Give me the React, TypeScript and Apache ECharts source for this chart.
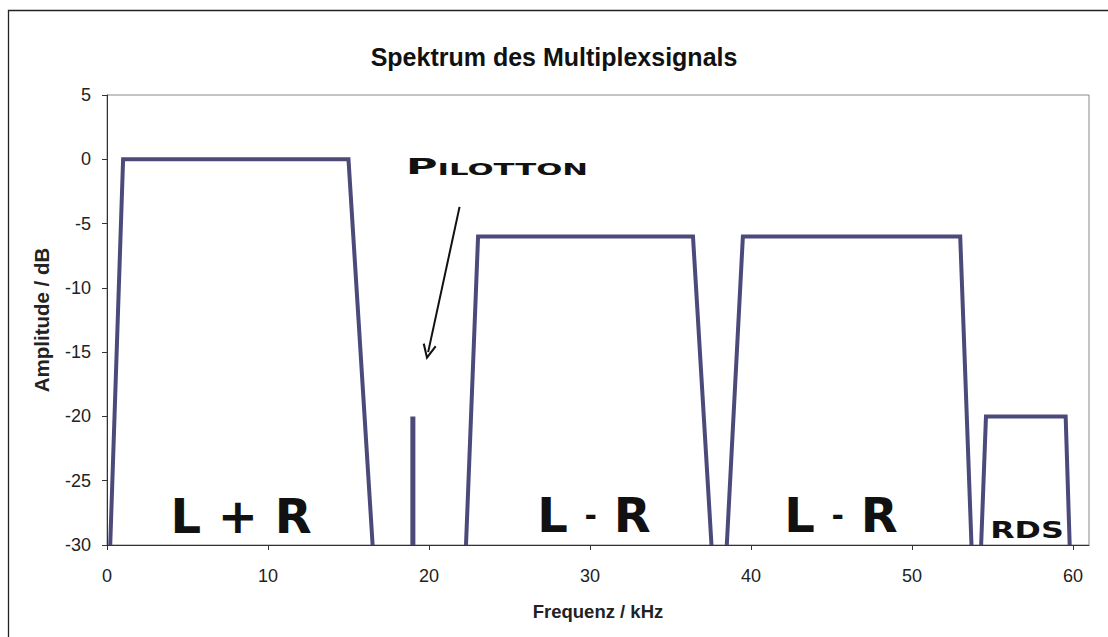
import React, { useEffect, useRef } from "react";
import * as echarts from "echarts";

// ---- Data ----
const titleText = "Spektrum des Multiplexsignals";
const xAxisName = "Frequenz / kHz";
const yAxisName = "Amplitude / dB";

const xTicks = [0, 10, 20, 30, 40, 50, 60];
const yTicks = [5, 0, -5, -10, -15, -20, -25, -30];

const lprFreq = [0.2, 1.0, 15.0, 16.5];
const lprAmp = [-30, 0, 0, -30];

const pilotFreq = [19, 19];
const pilotAmp = [-30, -20];

const lmr1Freq = [22.3, 23.05, 36.4, 37.55];
const lmr1Amp = [-30, -6, -6, -30];

const lmr2Freq = [38.5, 39.5, 53.0, 53.7];
const lmr2Amp = [-30, -6, -6, -30];

const rdsFreq = [54.3, 54.6, 59.55, 59.8];
const rdsAmp = [-30, -20, -20, -30];

const arrowFrom = [21.9, -3.7];
const arrowTo = [19.95, -15.0];

const LINE_COLOR = "#4B4A7B";

const zip = (xs: number[], ys: number[]) => xs.map((x, i) => [x, ys[i]]);

export default function App() {
  const ref = useRef<HTMLDivElement>(null);

  useEffect(() => {
    if (!ref.current) return;
    const chart = echarts.init(ref.current, null, { renderer: "svg" });

    const mkSeries = (name: string, xs: number[], ys: number[], extra: any = {}) => ({
      type: "line",
      name,
      data: zip(xs, ys),
      showSymbol: false,
      symbol: "none",
      lineStyle: { color: LINE_COLOR, width: 4, join: "miter", cap: "butt" },
      itemStyle: { color: LINE_COLOR },
      silent: true,
      ...extra,
    });

    const bigFont = "bold 48px 'DejaVu Sans', sans-serif";
    const lmrText = (x: number) => ({
      type: "text",
      x,
      y: 515,
      style: {
        text: "{a|L }{d|-}{a| R}",
        textAlign: "center",
        textVerticalAlign: "middle",
        fill: "#111",
        rich: {
          a: { font: bigFont, fill: "#111", verticalAlign: "middle" },
          d: { font: "bold 30px 'DejaVu Sans', sans-serif", fill: "#111", verticalAlign: "middle" },
        },
      },
      z: 50,
    });

    const option: any = {
      animation: false,
      backgroundColor: "#ffffff",
      title: {
        text: titleText,
        left: 549,
        top: 39,
        textAlign: "center",
        textStyle: {
          fontFamily: "Liberation Sans, Arial, sans-serif",
          fontWeight: "bold",
          fontSize: 25,
          color: "#111",
        },
      },
      grid: {
        left: 107,
        right: 19,
        top: 95,
        bottom: 92,
        show: true,
        borderColor: "#888",
        borderWidth: 1,
        containLabel: false,
      },
      xAxis: {
        type: "value",
        min: 0,
        max: 61,
        interval: 10,
        name: xAxisName,
        nameLocation: "middle",
        nameGap: 57,
        nameTextStyle: {
          fontFamily: "Liberation Sans, Arial, sans-serif",
          fontWeight: "bold",
          fontSize: 18.5,
          color: "#222",
        },
        axisLine: { show: true, onZero: false, lineStyle: { color: "#333", width: 1 } },
        axisTick: { show: true, length: 5, inside: false, customValues: xTicks, lineStyle: { color: "#333" } },
        axisLabel: {
          customValues: xTicks,
          margin: 22,
          fontFamily: "Liberation Sans, Arial, sans-serif",
          fontSize: 18,
          color: "#222",
        },
        splitLine: { show: false },
      },
      yAxis: {
        type: "value",
        min: -30,
        max: 5,
        interval: 5,
        name: yAxisName,
        nameLocation: "middle",
        nameGap: 55,
        nameTextStyle: {
          fontFamily: "Liberation Sans, Arial, sans-serif",
          fontWeight: "bold",
          fontSize: 20.5,
          color: "#222",
        },
        axisLine: { show: true, onZero: false, lineStyle: { color: "#333", width: 1 } },
        axisTick: { show: true, length: 5, inside: false, customValues: yTicks, lineStyle: { color: "#333" } },
        axisLabel: {
          customValues: yTicks,
          margin: 16,
          fontFamily: "Liberation Sans, Arial, sans-serif",
          fontSize: 18,
          color: "#222",
        },
        splitLine: { show: false },
      },
      series: [
        mkSeries("L + R", lprFreq, lprAmp),
        mkSeries("Pilotton", pilotFreq, pilotAmp, {
          lineStyle: { color: LINE_COLOR, width: 5, join: "miter", cap: "butt" },
          markLine: {
            silent: true,
            animation: false,
            symbol: ["none", "path://M10,0 L20,17 L17.5,18.5 L10,5.5 L2.5,18.5 L0,17 Z"],
            symbolSize: [14, 16],
            lineStyle: { color: "#111", width: 2, type: "solid" },
            label: { show: false },
            data: [[{ coord: arrowFrom }, { coord: arrowTo }]],
          },
        }),
        mkSeries("L - R (1)", lmr1Freq, lmr1Amp),
        mkSeries("L - R (2)", lmr2Freq, lmr2Amp),
        mkSeries("RDS", rdsFreq, rdsAmp),
      ],
      graphic: [
        {
          type: "rect",
          shape: { x: 8.5, y: 10.5, width: 1110, height: 700 },
          style: { fill: "none", stroke: "#222", lineWidth: 1.3 },
          silent: true,
          z: 100,
        },
        {
          type: "text",
          x: 241,
          y: 516,
          style: {
            text: "L + R",
            font: bigFont,
            fill: "#111",
            textAlign: "center",
            textVerticalAlign: "middle",
          },
          z: 50,
        },
        lmrText(594),
        lmrText(841),
        {
          type: "text",
          x: 1027,
          y: 530,
          scaleX: 1.38,
          style: {
            text: "RDS",
            font: "bold 23px 'DejaVu Sans', sans-serif",
            fill: "#111",
            textAlign: "center",
            textVerticalAlign: "middle",
          },
          z: 50,
        },
        {
          type: "text",
          x: 497,
          y: 167,
          scaleX: 2.05,
          style: {
            text: "{big|P}{small|ILOTTON}",
            textAlign: "center",
            textVerticalAlign: "middle",
            fill: "#111",
            rich: {
              big: { font: "bold 21px 'DejaVu Sans', sans-serif", fill: "#111", verticalAlign: "bottom" },
              small: { font: "bold 15px 'DejaVu Sans', sans-serif", fill: "#111", verticalAlign: "bottom" },
            },
          },
          z: 50,
        },
      ],
    };

    chart.setOption(option);
    return () => chart.dispose();
  }, []);

  return (
    <div
      ref={ref}
      style={{ position: "fixed", left: 0, top: 0, width: 1108, height: 637, background: "#fff" }}
    />
  );
}
